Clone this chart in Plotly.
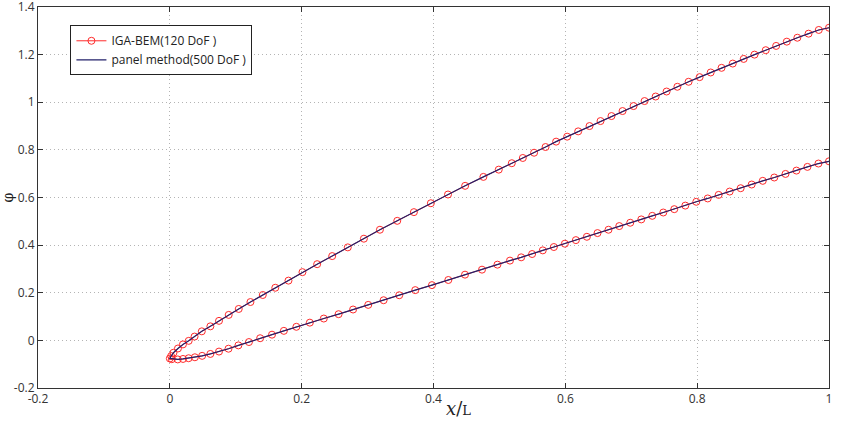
import plotly.graph_objects as go

# ---- data ----
x_upper = [0.0, 0.002, 0.0055, 0.0123, 0.0199, 0.0286, 0.0375, 0.0485, 0.0615, 0.0746,
           0.0893, 0.1045, 0.1223, 0.141, 0.16, 0.18, 0.2012, 0.2235, 0.2463, 0.270,
           0.2944, 0.3187, 0.345, 0.3703, 0.396, 0.422, 0.448, 0.4757, 0.499, 0.5188,
           0.5355, 0.5526, 0.570, 0.586, 0.6028, 0.6195, 0.6367, 0.6534, 0.670, 0.6868,
           0.7035, 0.7202, 0.737, 0.7536, 0.770, 0.787, 0.8037, 0.8205, 0.837, 0.854,
           0.8706, 0.887, 0.904, 0.9198, 0.936, 0.952, 0.969, 0.9845, 1.0]
phi_upper = [-0.076, -0.066, -0.052, -0.034, -0.017, -0.002, 0.016, 0.038, 0.059, 0.082,
             0.107, 0.132, 0.161, 0.1905, 0.221, 0.251, 0.2865, 0.320, 0.354, 0.3906,
             0.427, 0.4646, 0.502, 0.5385, 0.576, 0.6126, 0.649, 0.6865, 0.717, 0.744,
             0.766, 0.788, 0.812, 0.8346, 0.8555, 0.8777, 0.900, 0.921, 0.942, 0.963,
             0.984, 1.005, 1.024, 1.045, 1.065, 1.086, 1.1055, 1.125, 1.1445, 1.1625,
             1.182, 1.200, 1.2186, 1.2366, 1.2545, 1.271, 1.288, 1.3036, 1.313]

x_lower = [0.0, 0.003, 0.012, 0.020, 0.0285, 0.038, 0.049, 0.0615, 0.0746, 0.089,
           0.104, 0.120, 0.137, 0.155, 0.173, 0.192, 0.2124, 0.2336, 0.256, 0.278,
           0.301, 0.3243, 0.348, 0.3723, 0.3977, 0.4225, 0.4478, 0.4736, 0.497, 0.516,
           0.533, 0.5496, 0.5658, 0.5826, 0.5993, 0.616, 0.6327, 0.6488, 0.6655, 0.6818,
           0.6985, 0.7152, 0.7319, 0.7486, 0.7653, 0.782, 0.7987, 0.816, 0.8326, 0.8493,
           0.866, 0.8827, 0.8995, 0.917, 0.934, 0.9506, 0.9673, 0.984, 1.0]
phi_lower = [-0.076, -0.079, -0.080, -0.078, -0.075, -0.071, -0.065, -0.057, -0.047, -0.035,
             -0.021, -0.007, 0.009, 0.024, 0.040, 0.057, 0.0745, 0.0917, 0.110, 0.1296,
             0.149, 0.1686, 0.1895, 0.211, 0.232, 0.2536, 0.276, 0.297, 0.318, 0.335,
             0.3487, 0.3626, 0.378, 0.392, 0.406, 0.421, 0.435, 0.4506, 0.4646, 0.480,
             0.494, 0.508, 0.523, 0.537, 0.551, 0.566, 0.582, 0.596, 0.611, 0.625,
             0.639, 0.6545, 0.670, 0.684, 0.699, 0.713, 0.7286, 0.7426, 0.752]

x_ticks = [-0.2, 0, 0.2, 0.4, 0.6, 0.8, 1]
x_ticklabels = ["-0.2", "0", "0.2", "0.4", "0.6", "0.8", "1"]
y_ticks = [-0.2, 0, 0.2, 0.4, 0.6, 0.8, 1, 1.2, 1.4]
y_ticklabels = ["-0.2", "0", "0.2", "0.4", "0.6", "0.8", "1", "1.2", "1.4"]

names = ["IGA-BEM(120 DoF )", "panel method(500 DoF )"]
x_title = "<i>x</i>/<span style='font-size:13px'>L</span>"
y_title = "φ"

# closed path: lower surface (trailing edge -> tip) then upper surface
x_all = x_lower[::-1] + x_upper[1:]
phi_all = phi_lower[::-1] + phi_upper[1:]

fig = go.Figure()
fig.add_trace(go.Scatter(
    x=x_all, y=phi_all, mode="lines+markers", name=names[0],
    line=dict(color="#ff2b2b", width=1),
    marker=dict(symbol="circle-open", size=7, color="#ff2b2b", line=dict(width=1, color="#ff2b2b")),
))
fig.add_trace(go.Scatter(
    x=x_all, y=phi_all, mode="lines", name=names[1],
    line=dict(color="#22206a", width=1.2),
))

axis_common = dict(
    showline=True, linecolor="#333333", linewidth=1, mirror="ticks",
    ticks="inside", ticklen=5, tickcolor="#333333",
    showgrid=True, gridcolor="#b4b4b4", griddash="1px,3px", gridwidth=1,
    zeroline=False, automargin=False, ticklabeloverflow="allow",
    tickfont=dict(family="Open Sans, Noto Sans, sans-serif", size=12, color="#333333"),
)

fig.update_xaxes(range=[-0.2, 1], tickvals=x_ticks, ticktext=x_ticklabels, **axis_common)
fig.update_yaxes(range=[-0.2, 1.4], tickvals=y_ticks, ticktext=y_ticklabels,
                 title=dict(text=y_title,
                            font=dict(family="DejaVu Serif, Liberation Serif, serif", size=14, color="#222222"),
                            standoff=4),
                 **axis_common)

fig.add_annotation(
    text=x_title, xref="paper", yref="paper", x=0.532, y=-0.054,
    xanchor="center", yanchor="middle", showarrow=False,
    font=dict(family="DejaVu Serif, Liberation Serif, serif", size=18, color="#222222"),
)

fig.update_layout(
    width=842, height=422,
    margin=dict(l=38, r=13, t=7, b=34),
    paper_bgcolor="white", plot_bgcolor="white",
    legend=dict(x=0.041, y=0.952, xanchor="left", yanchor="top",
                bgcolor="white", bordercolor="#222222", borderwidth=1,
                font=dict(family="Open Sans, Noto Sans, sans-serif", size=12, color="#222222"),
                tracegroupgap=0, itemwidth=30),
    showlegend=True,
)

fig.write_html("out.html")
